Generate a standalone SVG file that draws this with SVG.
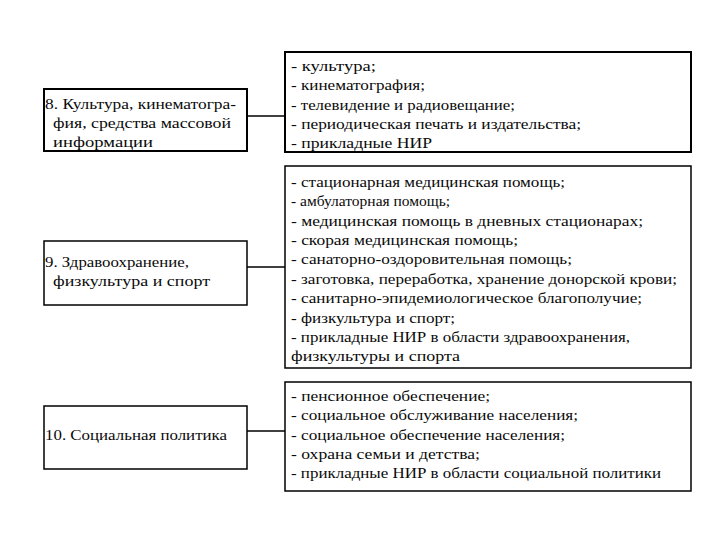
<svg xmlns="http://www.w3.org/2000/svg" width="720" height="540" viewBox="0 0 720 540">
<defs>
<style>
.box{fill:#fff;stroke:#000;stroke-width:1.5}
.thick{stroke-width:2}
.c{stroke:#000;stroke-width:1.5;fill:none}
text{font-family:'Liberation Serif',serif;font-size:15.5px;fill:#0a0a0a}
</style>
</defs>
<rect width="720" height="540" fill="#fff"/>
<g id="connectors">
<line class="c" x1="247" y1="116" x2="285" y2="116" stroke-width="2"/>
<line class="c" x1="247" y1="267" x2="285" y2="267"/>
<line class="c" x1="247" y1="431" x2="285" y2="431"/>
</g>
<g id="n8">
<rect class="box thick" x="44" y="89" width="203" height="62"/>
<text x="45" y="109" textLength="191" lengthAdjust="spacingAndGlyphs">8. Культура, кинематогра-</text>
<text x="53" y="128" textLength="178" lengthAdjust="spacingAndGlyphs">фия, средства массовой</text>
<text x="53" y="147" textLength="100" lengthAdjust="spacingAndGlyphs">информации</text>
</g>
<g id="n8d">
<rect class="box thick" x="285" y="52" width="406" height="100"/>
<text x="291" y="71" textLength="85" lengthAdjust="spacingAndGlyphs">- культура;</text>
<text x="291" y="90" textLength="134" lengthAdjust="spacingAndGlyphs">- кинематография;</text>
<text x="291" y="110" textLength="224" lengthAdjust="spacingAndGlyphs">- телевидение и радиовещание;</text>
<text x="291" y="129" textLength="290" lengthAdjust="spacingAndGlyphs">- периодическая печать и издательства;</text>
<text x="291" y="148" textLength="141" lengthAdjust="spacingAndGlyphs">- прикладные НИР</text>
</g>
<g id="n9">
<rect class="box" x="44" y="241" width="203" height="64"/>
<text x="45" y="267" textLength="144" lengthAdjust="spacingAndGlyphs">9. Здравоохранение,</text>
<text x="53" y="286" textLength="157" lengthAdjust="spacingAndGlyphs">физкультура и спорт</text>
</g>
<g id="n9d">
<rect class="box" x="285" y="166" width="406" height="202"/>
<text x="291" y="187" textLength="274" lengthAdjust="spacingAndGlyphs">- стационарная медицинская помощь;</text>
<text x="291" y="206">- амбулаторная помощь;</text>
<text x="291" y="226" textLength="352" lengthAdjust="spacingAndGlyphs">- медицинская помощь в дневных стационарах;</text>
<text x="291" y="245" textLength="227" lengthAdjust="spacingAndGlyphs">- скорая медицинская помощь;</text>
<text x="291" y="264" textLength="281" lengthAdjust="spacingAndGlyphs">- санаторно-оздоровительная помощь;</text>
<text x="291" y="284" textLength="386" lengthAdjust="spacingAndGlyphs">- заготовка, переработка, хранение донорской крови;</text>
<text x="291" y="303" textLength="351" lengthAdjust="spacingAndGlyphs">- санитарно-эпидемиологическое благополучие;</text>
<text x="291" y="323" textLength="164" lengthAdjust="spacingAndGlyphs">- физкультура и спорт;</text>
<text x="291" y="342" textLength="339" lengthAdjust="spacingAndGlyphs">- прикладные НИР в области здравоохранения,</text>
<text x="291" y="361" textLength="169" lengthAdjust="spacingAndGlyphs">физкультуры и спорта</text>
</g>
<g id="n10">
<rect class="box" x="44" y="406" width="203" height="63"/>
<text x="45" y="440" textLength="182" lengthAdjust="spacingAndGlyphs">10. Социальная политика</text>
</g>
<g id="n10d">
<rect class="box" x="285" y="382" width="406" height="109"/>
<text x="291" y="401" textLength="199" lengthAdjust="spacingAndGlyphs">- пенсионное обеспечение;</text>
<text x="291" y="420" textLength="287" lengthAdjust="spacingAndGlyphs">- социальное обслуживание населения;</text>
<text x="291" y="440" textLength="274" lengthAdjust="spacingAndGlyphs">- социальное обеспечение населения;</text>
<text x="291" y="459" textLength="189" lengthAdjust="spacingAndGlyphs">- охрана семьи и детства;</text>
<text x="291" y="478" textLength="370" lengthAdjust="spacingAndGlyphs">- прикладные НИР в области социальной политики</text>
</g>
</svg>
